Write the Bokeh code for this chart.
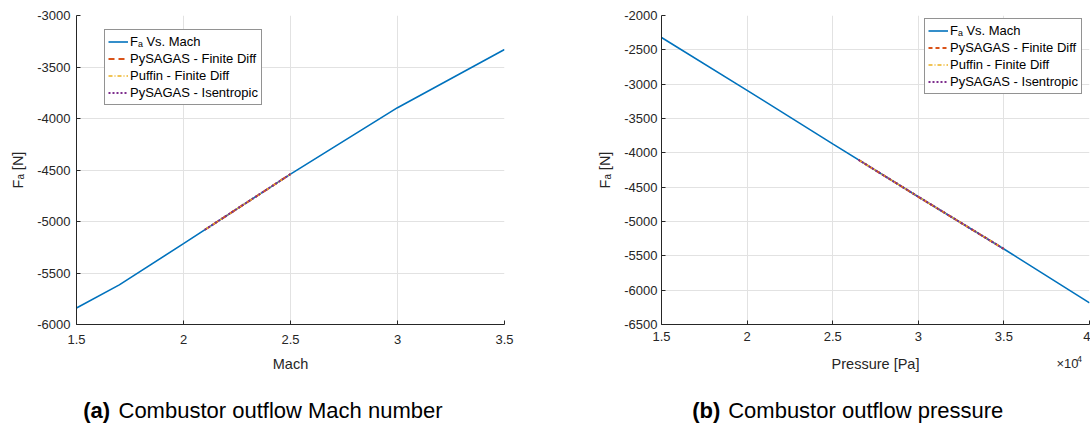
from bokeh.plotting import figure
from bokeh.layouts import row, column
from bokeh.models import (Legend, LegendItem, Label, FixedTicker, CustomJSTickFormatter, Range1d)
from bokeh.embed import file_html
from bokeh.resources import INLINE

# ---------------- data ----------------
mach = [1.5, 1.7, 2.0, 2.5, 3.0, 3.5]
fa_vs_mach = [-5840, -5615, -5215, -4540, -3895, -3330]
mach_sens = [2.1, 2.2, 2.3, 2.4, 2.5]
pysagas_fd_mach = [-5080, -4945, -4810, -4675, -4540]
puffin_fd_mach = [-5080, -4945, -4810, -4675, -4540]
pysagas_isen_mach = [-5080, -4945, -4810, -4675, -4540]

pressure = [15000, 20000, 25000, 30000, 35000, 40000]
fa_vs_p = [-2320, -3090, -3870, -4640, -5400, -6185]
p_sens = [26500, 28000, 30000, 32500, 35000]
pysagas_fd_p = [-4101, -4332, -4640, -5020, -5400]
puffin_fd_p = [-4101, -4332, -4640, -5020, -5400]
pysagas_isen_p = [-4101, -4332, -4640, -5020, -5400]

mach_ticks = [1.5, 2.0, 2.5, 3.0, 3.5]
fa_ticks_a = [-6000, -5500, -5000, -4500, -4000, -3500, -3000]
p_ticks = [15000, 20000, 25000, 30000, 35000, 40000]
fa_ticks_b = [-6500, -6000, -5500, -5000, -4500, -4000, -3500, -3000, -2500, -2000]

series_labels = ["F\u2090 Vs. Mach", "PySAGAS - Finite Diff", "Puffin - Finite Diff", "PySAGAS - Isentropic"]
x_labels = ["Mach", "Pressure [Pa]"]
y_label = "F\u2090 [N]"
captions = [("(a)", "Combustor outflow Mach number"), ("(b)", "Combustor outflow pressure")]

FONT = "Liberation Sans"
AX = "#262626"
C_BLUE, C_RED, C_YEL, C_PUR = "#0072BD", "#D95319", "#EDB120", "#7E2F8E"


def style(p, xticks, yticks, xfmt, xlab_standoff, ylab_standoff):
    p.outline_line_color = None
    p.title.visible = False
    for ax in (p.xaxis[0], p.yaxis[0]):
        ax.axis_line_color = AX
        ax.major_tick_line_color = AX
        ax.major_tick_in = 4
        ax.major_tick_out = 0
        ax.minor_tick_line_color = None
        ax.major_label_text_font = FONT
        ax.major_label_text_font_size = "13px"
        ax.major_label_text_color = AX
        ax.axis_label_text_font = FONT
        ax.axis_label_text_font_size = "14.5px"
        ax.axis_label_text_font_style = "normal"
        ax.axis_label_text_color = AX
    p.xaxis.ticker = FixedTicker(ticks=xticks)
    p.yaxis.ticker = FixedTicker(ticks=yticks)
    p.xaxis.formatter = CustomJSTickFormatter(code=xfmt)
    p.yaxis.formatter = CustomJSTickFormatter(code="return tick.toString()")
    p.xaxis.major_label_standoff = xlab_standoff
    p.xaxis.axis_label_standoff = 0
    p.yaxis.major_label_standoff = ylab_standoff
    p.yaxis.axis_label_standoff = 8
    p.grid.grid_line_color = "#e2e2e2"
    p.grid.grid_line_width = 1


def add_lines(p, x, y, xs, s1, s2, s3, dash1):
    r0 = p.line(x, y, line_color=C_BLUE, line_width=1.6)
    r1 = p.line(xs, s1, line_color=C_RED, line_width=2, line_dash=dash1)
    r2 = p.line(xs, s2, line_color=C_YEL, line_width=1.5, line_dash="4 2 1 2")
    r3 = p.line(xs, s3, line_color=C_PUR, line_width=2, line_dash="2 2")
    return [r0, r1, r2, r3]


def add_legend(p, rs, loc):
    items = [LegendItem(label=l, renderers=[r]) for l, r in zip(series_labels, rs)]
    lg = Legend(items=items, location=loc, label_text_font=FONT, label_text_font_size="13px",
                label_text_color="#000000", label_height=17, glyph_height=17, glyph_width=20,
                label_standoff=2, padding=3, spacing=0, margin=0,
                border_line_color=AX, border_line_width=1, background_fill_alpha=1)
    p.add_layout(lg, "center")


# ---------------- panel (a) ----------------
p1 = figure(width=566, height=355,
            min_border_left=76, min_border_right=62, min_border_top=15, min_border_bottom=28,
            x_range=Range1d(1.5, 3.5), y_range=Range1d(-6000, -3000),
            output_backend="svg", toolbar_location=None, y_axis_label=y_label)
style(p1, mach_ticks, fa_ticks_a, "return tick.toString()", 10, 6)
rs1 = add_lines(p1, mach, fa_vs_mach, mach_sens, pysagas_fd_mach, puffin_fd_mach, pysagas_isen_mach, "6 4")
add_legend(p1, rs1, (28, 219))

# ---------------- panel (b) ----------------
p2 = figure(width=524, height=355,
            min_border_left=95, min_border_right=1, min_border_top=15, min_border_bottom=31,
            x_range=Range1d(15000, 40000), y_range=Range1d(-6500, -2000),
            output_backend="svg", toolbar_location=None, y_axis_label=y_label)
style(p2, p_ticks, fa_ticks_b, "return (tick / 1e4).toString()", 7, 4)
rs2 = add_lines(p2, pressure, fa_vs_p, p_sens, pysagas_fd_p, puffin_fd_p, pysagas_isen_p, "4 3")
add_legend(p2, rs2, (263, 230))

# ---------------- strip below: x-axis titles, exponent, captions ----------------
strip = figure(width=1090, height=69, min_border=0, x_axis_type=None, y_axis_type=None,
               x_range=Range1d(0, 1090), y_range=Range1d(0, 69),
               output_backend="svg", toolbar_location=None)
strip.title.visible = False
strip.outline_line_color = None
strip.grid.visible = False


def lab(x, y, text, size, color=AX, align="left", style_="normal"):
    strip.add_layout(Label(x=x, y=y + 6, x_units="screen", y_units="screen", text=text,
                           text_font=FONT, text_font_size=size, text_color=color,
                           text_align=align, text_baseline="alphabetic",
                           text_font_style=style_))


lab(290, 55, x_labels[0], "14.5px", align="center")
lab(875, 55, x_labels[1], "14.5px", align="center")
lab(1056, 55, "\u00d710", "13px")
lab(1076.5, 59.5, "4", "9px")
lab(82.7, 8, captions[0][0], "22px", color="#000000", style_="bold")
lab(118, 8, captions[0][1], "22px", color="#000000")
lab(691.7, 8, captions[1][0], "22px", color="#000000", style_="bold")
lab(727.7, 8, captions[1][1], "22px", color="#000000")

layout = column(row(p1, p2), strip)
open("out.html", "w").write(file_html(layout, INLINE))
